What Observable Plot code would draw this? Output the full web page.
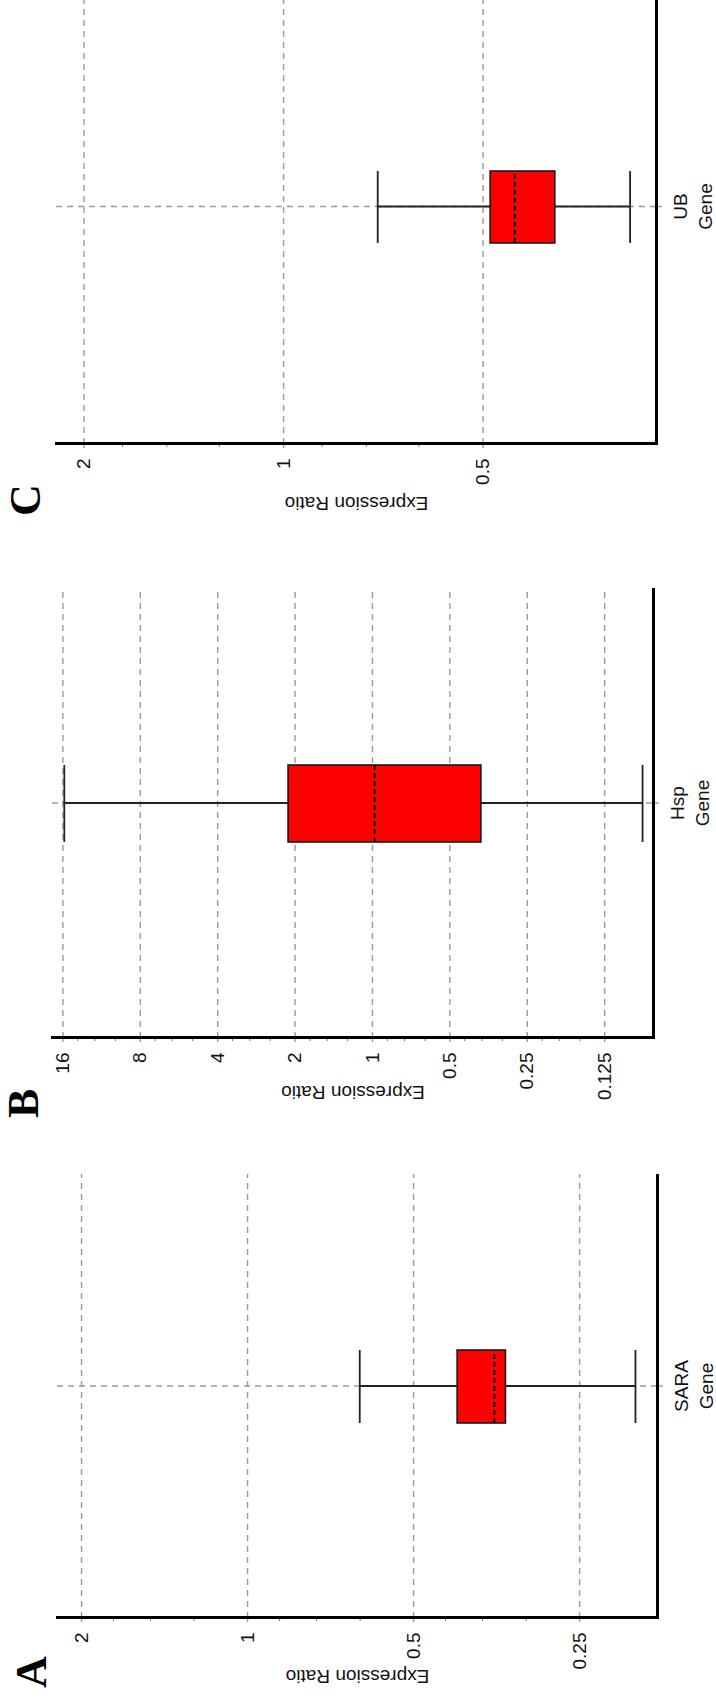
<!DOCTYPE html>
<html><head><meta charset="utf-8">
<script src="https://cdn.jsdelivr.net/npm/d3@7"></script>
<script src="https://cdn.jsdelivr.net/npm/@observablehq/plot@0.6"></script>
<style>
html,body{margin:0;padding:0;background:#fff;}
body{width:716px;height:1699px;overflow:hidden;position:relative;}
#fig{position:absolute;left:0;top:0;width:1699px;height:716px;transform-origin:0 0;transform:translate(0,1699px) rotate(-90deg);overflow:hidden;background:#fff;}
.panel{position:absolute;top:0;}
.letter{position:absolute;font-family:"Liberation Serif","Times New Roman",serif;font-weight:bold;font-size:44px;line-height:44px;color:#000;}
</style></head><body><div id="fig"></div>
<script>
// ---- data ----
const panelLetters = ["A", "B", "C"];
const genes = ["SARA", "Hsp", "UB"];
const minValues = [0.198, 0.089, 0.300];
const q1Values = [0.340, 0.377, 0.389];
const medianValues = [0.357, 0.98, 0.448];
const q3Values = [0.416, 2.12, 0.487];
const maxValues = [0.626, 15.8, 0.721];
const majorTicksA = [2, 1, 0.5, 0.25];
const majorTicksB = [16, 8, 4, 2, 1, 0.5, 0.25, 0.125];
const majorTicksC = [2, 1, 0.5];
const minorTicksA = [1.75, 1.5, 1.25, 0.875, 0.75, 0.625, 0.4375, 0.375, 0.3125];
const minorTicksB = [14, 12, 10, 7, 6, 5, 3.5, 3, 2.5, 1.75, 1.5, 1.25, 0.875, 0.75, 0.625, 0.4375, 0.375, 0.3125, 0.21875, 0.1875, 0.15625];
const minorTicksC = [1.75, 1.5, 1.25, 0.875, 0.75, 0.625];
const domainA = [0.1806, 2.211];
const domainB = [0.0807, 17.56];
const domainC = [0.2737, 2.201];
const yLabel = "Expression Ratio";
const xLabel = "Gene";

const majorTicks = [majorTicksA, majorTicksB, majorTicksC];
const minorTicks = [minorTicksA, minorTicksB, minorTicksC];
const domains = [domainA, domainB, domainC];

// ---- layout (original, unrotated orientation) ----
const layout = [
  {left: 0,    frameW: 444, boxW: 73, center: 231, labelOffset: 66, top: 57, bottom: 657, letterLeft: 11,   letterTop: 10},
  {left: 580,  frameW: 450, boxW: 77, center: 234, labelOffset: 62, top: 52, bottom: 653, letterLeft: 581,  letterTop: 2},
  {left: 1174, frameW: 447, boxW: 72, center: 237, labelOffset: 67, top: 56, bottom: 656, letterLeft: 1183, letterTop: 4}
];
const M = 81;
const H = 716;
const fig = document.getElementById("fig");
const gridColor = "#9a9a9a";
const lineColor = "#222";

layout.forEach((L, i) => {
  const rows = [{gene: genes[i], min: minValues[i], q1: q1Values[i], median: medianValues[i], q3: q3Values[i], max: maxValues[i]}];
  const po = (L.frameW / L.boxW - 1) / 2;
  const align = (L.center - L.boxW / 2) / (L.frameW - L.boxW);
  const chart = Plot.plot({
    width: M + L.frameW,
    height: H,
    marginLeft: M,
    marginRight: 0,
    marginTop: L.top,
    marginBottom: H - L.bottom,
    style: {fontFamily: "'Liberation Sans', Arial, sans-serif", fontSize: "19px", color: "#000", background: "transparent"},
    x: {type: "band", domain: [genes[i]], paddingInner: 0, paddingOuter: po, align, label: null},
    y: {type: "log", base: 2, domain: domains[i], label: null},
    marks: [
      Plot.gridY({ticks: majorTicks[i], stroke: gridColor, strokeOpacity: 1, strokeWidth: 1.4, strokeDasharray: "6,5"}),
      Plot.gridX({stroke: gridColor, strokeOpacity: 1, strokeWidth: 1.4, strokeDasharray: "6,5"}),
      Plot.axisY({ticks: majorTicks[i], tickSize: 4, tickPadding: 11, stroke: gridColor, strokeWidth: 1.4, fill: "#111", fontSize: 19,
        tickFormat: d => String(d), label: yLabel, labelAnchor: "center", labelOffset: L.labelOffset, labelArrow: "none"}),
      Plot.axisY({ticks: minorTicks[i], tickSize: 3, stroke: "#777", strokeWidth: 1, fill: "none", label: null}),
      Plot.axisX({tickSize: 10, tickPadding: 3, stroke: gridColor, strokeWidth: 1.4, strokeDasharray: "6,5", fill: "#111", fontSize: 19,
        lineHeight: 1.3, tickFormat: d => `${d}\n${xLabel}`, label: null}),
      Plot.ruleX(rows, {x: "gene", y1: "min", y2: "max", stroke: lineColor, strokeWidth: 1.8}),
      Plot.tickY(rows, {x: "gene", y: "min", stroke: lineColor, strokeWidth: 1.8}),
      Plot.tickY(rows, {x: "gene", y: "max", stroke: lineColor, strokeWidth: 1.8}),
      Plot.barY(rows, {x: "gene", y1: "q1", y2: "q3", fill: "#ff0000", stroke: "#1a1a1a", strokeWidth: 1.6}),
      Plot.tickY(rows, {x: "gene", y: "median", stroke: "#000", strokeWidth: 2, strokeDasharray: "5,3"}),
      Plot.frame({anchor: "left", stroke: "#000", strokeWidth: 3}),
      Plot.frame({anchor: "bottom", stroke: "#000", strokeWidth: 3})
    ]
  });
  chart.classList.add("panel");
  chart.style.left = L.left + "px";
  fig.appendChild(chart);
  const letter = document.createElement("div");
  letter.className = "letter";
  letter.textContent = panelLetters[i];
  letter.style.left = L.letterLeft + "px";
  letter.style.top = L.letterTop + "px";
  fig.appendChild(letter);
});
</script>
</body></html>
